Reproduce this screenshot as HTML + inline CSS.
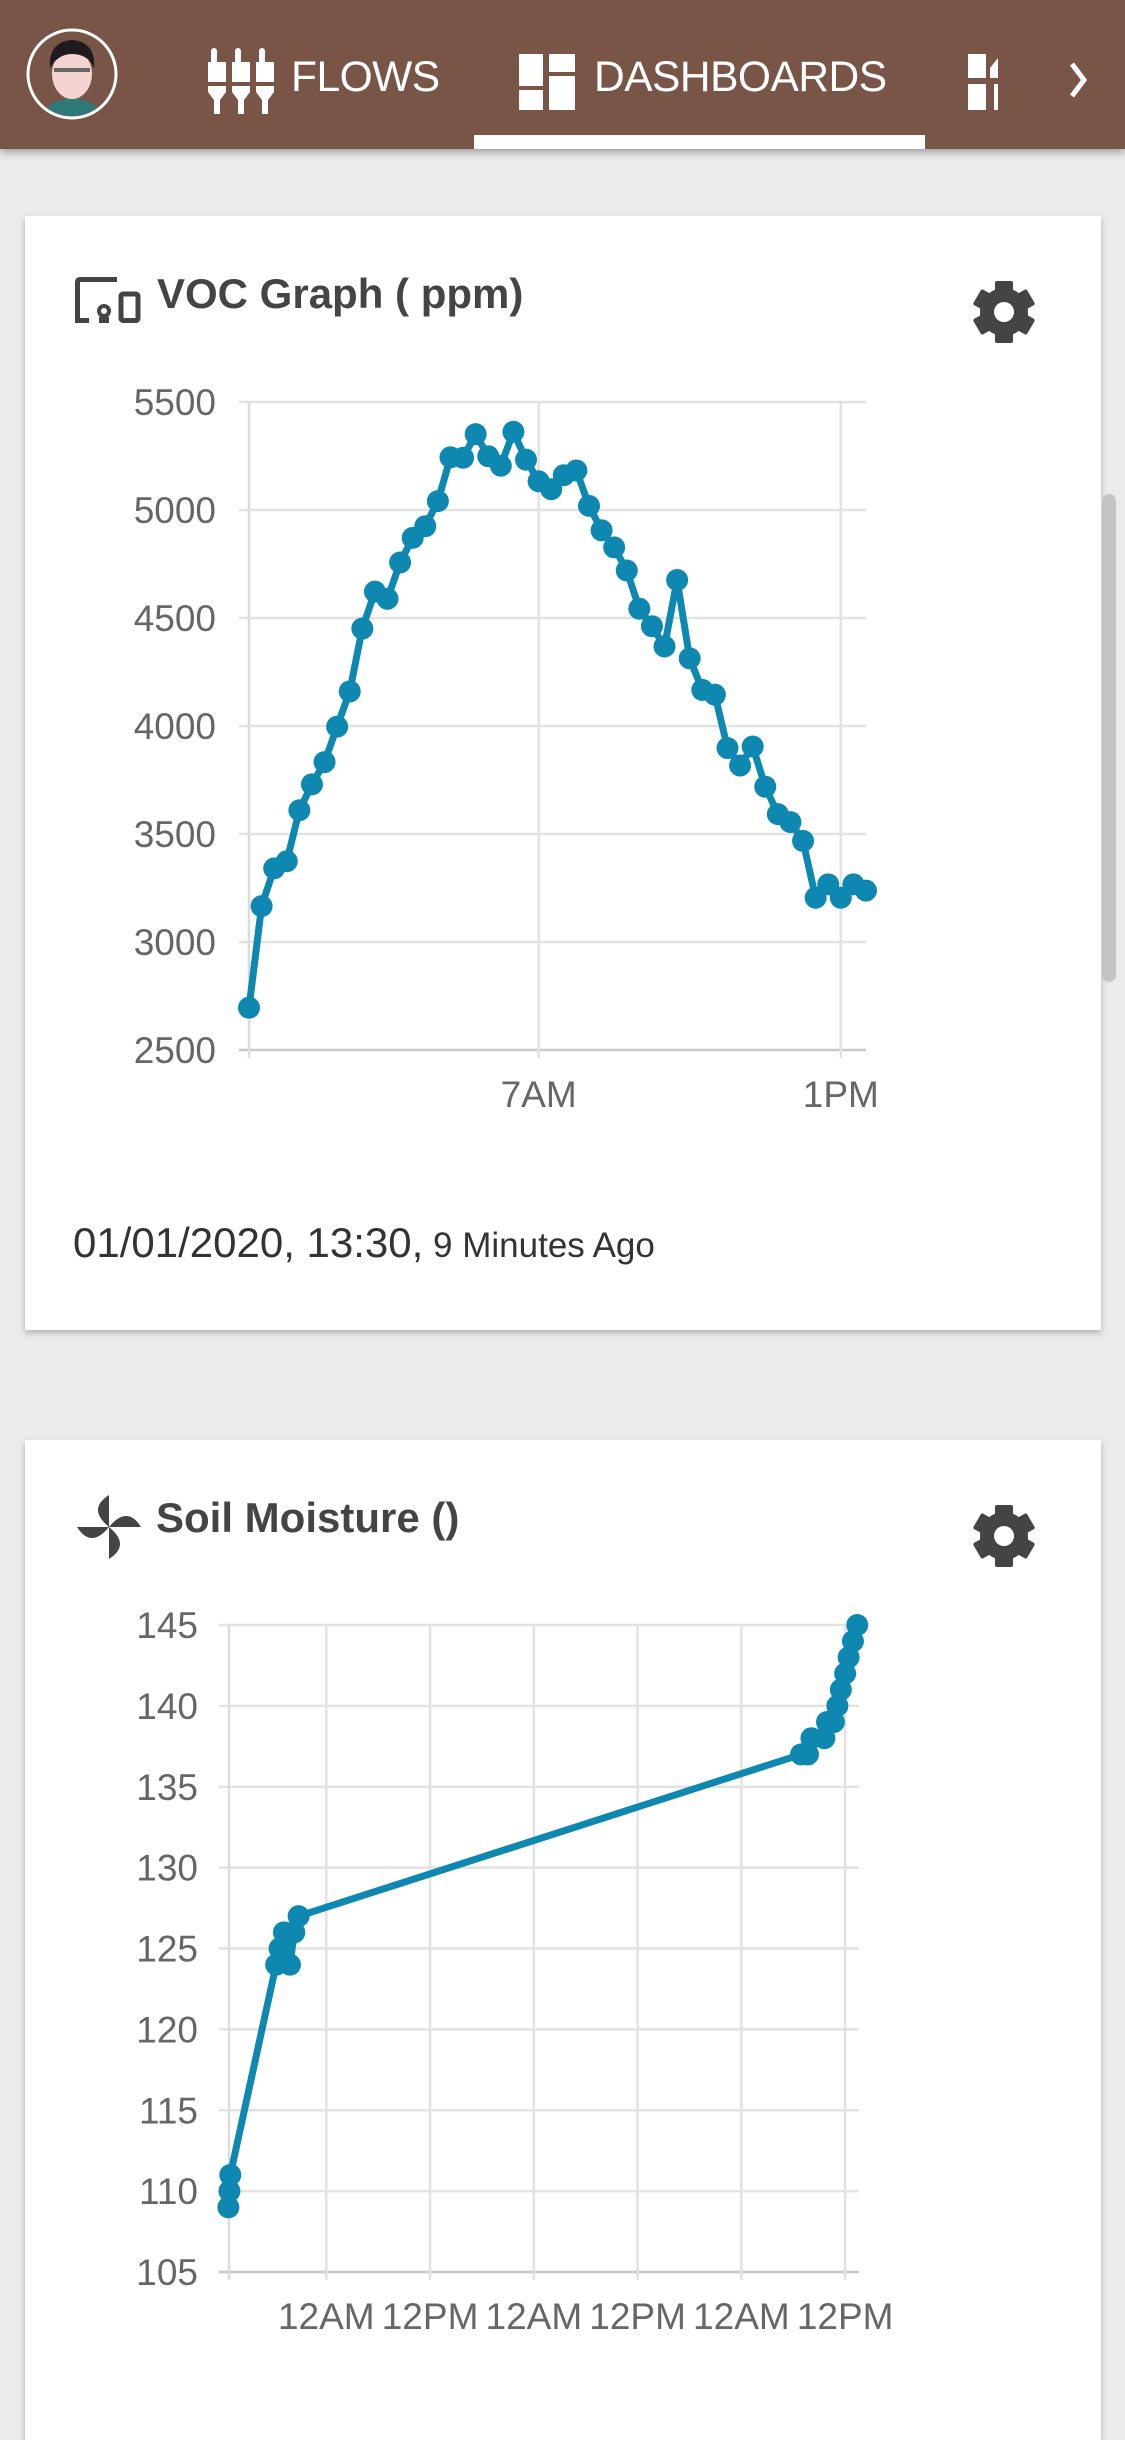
<!DOCTYPE html>
<html><head><meta charset="utf-8">
<style>
html,body{margin:0;padding:0;}
body{width:1125px;height:2436px;background:#ebebeb;position:relative;overflow:hidden;font-family:"Liberation Sans",sans-serif;}
.abs{position:absolute;}
#header{left:0;top:0;width:1125px;height:149px;background:#795548;box-shadow:0 3px 8px rgba(0,0,0,0.35);z-index:2;}
.tab{position:absolute;color:#fff;font-size:42.5px;top:48px;line-height:60px;letter-spacing:-0.5px;}
.card{position:absolute;left:25px;width:1076px;background:#fff;box-shadow:0 3px 6px rgba(0,0,0,0.25);}
.title{position:absolute;font-weight:bold;font-size:42px;color:#444;}
</style></head><body>
<div id="header" class="abs">
  <svg class="abs" style="left:26px;top:28px" width="92" height="92">
    <circle cx="46" cy="46" r="44" fill="#795548" stroke="#fff" stroke-width="3"/>
    <clipPath id="av"><circle cx="46" cy="46" r="42"/></clipPath>
    <g clip-path="url(#av)">
      <path d="M14 92 Q20 72 46 70 Q72 72 78 92Z" fill="#2e7a78"/>
      <ellipse cx="46" cy="46" rx="20" ry="25" fill="#f3d4d0"/>
      <path d="M24 40 Q22 14 46 12 Q70 14 68 40 Q62 26 46 26 Q32 26 24 40Z" fill="#1e1a1e"/>
      <rect x="28" y="40" width="36" height="4" fill="#666"/>
    </g>
  </svg>
  <svg class="abs" style="left:208px;top:48px" width="68" height="66">
    <g fill="#fff">
      <rect x="3" y="0" width="6" height="16" rx="3"/><rect x="0" y="14" width="18" height="20"/><path d="M0 38 H18 V44 L12 52 V66 H6 V52 L0 44Z"/>
      <rect x="27" y="0" width="6" height="16" rx="3"/><rect x="24" y="14" width="18" height="20"/><path d="M24 38 H42 V44 L36 52 V66 H30 V52 L24 44Z"/>
      <rect x="51" y="0" width="6" height="16" rx="3"/><rect x="48" y="14" width="18" height="20"/><path d="M48 38 H66 V44 L60 52 V66 H54 V52 L48 44Z"/>
    </g>
  </svg>
  <div class="tab" style="left:291px">FLOWS</div>
  <svg class="abs" style="left:519px;top:54px" width="56" height="56">
    <g fill="#fff"><rect x="0" y="0" width="24" height="32"/><rect x="30" y="0" width="26" height="18"/><rect x="0" y="36" width="24" height="20"/><rect x="30" y="22" width="26" height="34"/></g>
  </svg>
  <div class="tab" style="left:594px">DASHBOARDS</div>
  <div class="abs" style="left:474px;top:135px;width:451px;height:14px;background:#fff"></div>
  <svg class="abs" style="left:968px;top:54px" width="40" height="56">
    <g fill="#fff"><rect x="0" y="0" width="18" height="24"/><rect x="0" y="30" width="18" height="26"/><path d="M22 14 L30 4 V24 H22Z"/><rect x="26" y="30" width="4" height="26"/></g>
  </svg>
  <svg class="abs" style="left:1066px;top:60px" width="28" height="40">
    <path d="M6 4 L18 20 L6 36" fill="none" stroke="#fff" stroke-width="5"/>
  </svg>
</div>

<div class="card" style="top:216px;height:1114px"></div>
<div class="card" style="top:1440px;height:1000px"></div>
<div class="abs" style="left:1102px;top:494px;width:14px;height:488px;border-radius:7px;background:#c4c4c4"></div>

<svg class="abs" style="left:75px;top:277px" width="66" height="46">
  <g fill="none" stroke="#444" stroke-width="5"><path d="M42 2.5 H5 Q2.5 2.5 2.5 5 V43.5 H14"/><rect x="46" y="17" width="17" height="26.5" rx="2"/></g>
  <circle cx="29" cy="34" r="5" fill="none" stroke="#444" stroke-width="4"/><rect x="24" y="40" width="10" height="6" fill="#444"/>
</svg>
<div class="title" style="left:157px;top:270px">VOC Graph ( ppm)</div>
<svg class="abs" style="left:970px;top:278px" width="68" height="68">
  <g transform="translate(34,34)" fill="#444">
    <circle r="24"/>
    <rect x="-9" y="-31" width="18" height="62" rx="2"/>
    <rect x="-9" y="-31" width="18" height="62" rx="2" transform="rotate(60)"/>
    <rect x="-9" y="-31" width="18" height="62" rx="2" transform="rotate(120)"/>
    <circle r="10" fill="#fff"/>
  </g>
</svg>
<div class="abs" style="left:73px;top:1219px;color:#333;font-size:42px;white-space:nowrap">01/01/2020, 13:30,<span style="font-size:35px"> 9 Minutes Ago</span></div>

<svg class="abs" style="left:75px;top:1495px" width="68" height="64">
  <g fill="#444">
    <path d="M34 32 L34 0 Q12 14 34 32Z"/>
    <path d="M34 32 L66 32 Q52 10 34 32Z" />
    <path d="M34 32 L34 64 Q56 50 34 32Z"/>
    <path d="M34 32 L2 32 Q16 54 34 32Z"/>
  </g>
</svg>
<div class="title" style="left:156px;top:1494px">Soil Moisture ()</div>
<svg class="abs" style="left:970px;top:1502px" width="68" height="68">
  <g transform="translate(34,34)" fill="#444">
    <circle r="24"/>
    <rect x="-9" y="-31" width="18" height="62" rx="2"/>
    <rect x="-9" y="-31" width="18" height="62" rx="2" transform="rotate(60)"/>
    <rect x="-9" y="-31" width="18" height="62" rx="2" transform="rotate(120)"/>
    <circle r="10" fill="#fff"/>
  </g>
</svg>

<svg id="chart1" class="abs" style="left:0;top:0" width="1125" height="1330"></svg>
<svg id="chart2" class="abs" style="left:0;top:0" width="1125" height="2436"></svg>

<script>
// VOC chart data (hours of day, ppm)
const vocStartHour = 1.25;
const vocStepHour = 0.25;
const vocValues = [2696,3166,3341,3374,3610,3730,3833,3997,4160,4451,4622,4589,4757,4871,4925,5041,5244,5242,5351,5249,5205,5362,5233,5133,5096,5161,5183,5019,4906,4827,4720,4543,4462,4368,4676,4313,4167,4145,3898,3817,3905,3719,3592,3555,3468,3205,3267,3205,3267,3238];
const vocYTicks = [2500,3000,3500,4000,4500,5000,5500];
const vocXTickHours = [7,13];
const vocXTickLabels = ['7AM','1PM'];

// Soil moisture data (hours since day-0 midnight, value)
const soilHours = [12.68,12.8,12.9,18.2,18.6,19.1,19.8,20.3,20.8,78.9,79.7,80.1,81.6,81.9,82.7,83.1,83.5,84.0,84.4,84.9,85.4];
const soilValues = [109,110,111,124,125,126,124,126,127,137,137,138,138,139,139,140,141,142,143,144,145];
const soilYTicks = [105,110,115,120,125,130,135,140,145];
const soilXTickHours = [24,36,48,60,72,84];
const soilXTickLabels = ['12AM','12PM','12AM','12PM','12AM','12PM'];

const NS='http://www.w3.org/2000/svg';
function mk(svg,tag,attrs){const e=document.createElementNS(NS,tag);for(const k in attrs)e.setAttribute(k,attrs[k]);svg.appendChild(e);return e;}

function drawChart(svg,cfg){
  const sx=v=>cfg.x0+(v-cfg.xmin)/(cfg.xmax-cfg.xmin)*(cfg.x1-cfg.x0);
  const sy=v=>cfg.y0-(v-cfg.ymin)/(cfg.ymax-cfg.ymin)*(cfg.y0-cfg.y1);
  cfg.yTicks.forEach(t=>{
    const l=mk(svg,'line',{x1:cfg.x0-10,x2:cfg.x1,y1:sy(t),y2:sy(t),stroke:t===cfg.ymin?'#c8c8c8':'#e2e2e2','stroke-width':2.5});
    
    
    const tx=mk(svg,'text',{x:cfg.x0-cfg.labelGap,y:sy(t)+13,'text-anchor':'end','font-size':37,fill:'#666','font-family':'Liberation Sans, sans-serif'});
    tx.textContent=t;
    
    
  });
  const ax=mk(svg,'line',{x1:cfg.x0,x2:cfg.x0,y1:cfg.y1,y2:cfg.y0+8,stroke:'#dcdcdc','stroke-width':2.5});
  
  
  cfg.xTicks.forEach((t,i)=>{
    const l=mk(svg,'line',{x1:sx(t),x2:sx(t),y1:cfg.y1,y2:cfg.y0+8,stroke:'#e2e2e2','stroke-width':2.5});
    
    
    const tx=mk(svg,'text',{x:sx(t),y:cfg.y0+57,'text-anchor':'middle','font-size':37,fill:'#666','font-family':'Liberation Sans, sans-serif'});
    tx.textContent=cfg.xLabels[i];
    
    
  });
  const pts=cfg.xs.map((x,i)=>sx(x).toFixed(1)+','+sy(cfg.ys[i]).toFixed(1)).join(' ');
  const pl=mk(svg,'polyline',{points:pts,fill:'none',stroke:'#0e88b1','stroke-width':7,'stroke-linejoin':'round'});
  
  
  cfg.xs.forEach((x,i)=>{
    const c=mk(svg,'circle',{cx:sx(x),cy:sy(cfg.ys[i]),r:11,fill:'#0e88b1'});
    
    
  });
}
const vocHours=vocValues.map((v,i)=>vocStartHour+i*vocStepHour);
drawChart(document.getElementById('chart1'),{x0:249,x1:866,y0:1050,y1:402,labelGap:33,xmin:vocStartHour,xmax:vocHours[vocHours.length-1],ymin:2500,ymax:5500,yTicks:vocYTicks,xTicks:vocXTickHours,xLabels:vocXTickLabels,xs:vocHours,ys:vocValues});
drawChart(document.getElementById('chart2'),{x0:229,x1:859,y0:2272,y1:1625,labelGap:31,xmin:12.75,xmax:85.6,ymin:105,ymax:145,yTicks:soilYTicks,xTicks:soilXTickHours,xLabels:soilXTickLabels,xs:soilHours,ys:soilValues});
</script>
</body></html>
